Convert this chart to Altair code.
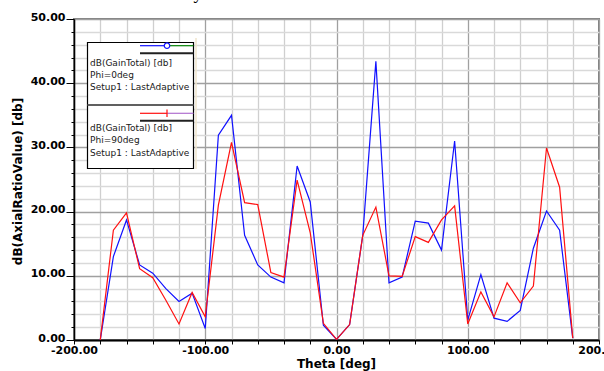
import altair as alt
import pandas as pd

# ---------------- data ----------------
theta = [-180, -170, -160, -150, -140, -130, -120, -110, -100, -90,
         -80, -70, -60, -50, -40, -30, -20, -10, 0, 10,
         20, 30, 40, 50, 60, 70, 80, 90, 100, 110,
         120, 130, 140, 150, 160, 170, 180]
phi0 = [0.0, 13.0, 18.7, 11.7, 10.4, 8.0, 6.0, 7.3, 1.8, 31.9,
        35.0, 16.3, 11.7, 9.8, 8.9, 27.1, 21.5, 2.3, 0.1, 2.4,
        16.3, 43.4, 8.9, 9.8, 18.5, 18.2, 14.0, 31.0, 3.1, 10.2,
        3.4, 2.9, 4.6, 14.3, 20.1, 17.1, 0.3]
phi90 = [0.0, 17.1, 19.8, 11.1, 9.7, 6.2, 2.5, 7.4, 3.6, 21.0,
         30.8, 21.4, 21.1, 10.5, 9.8, 24.9, 16.7, 2.6, 0.1, 2.4,
         16.3, 20.7, 10.0, 9.9, 16.1, 15.2, 18.7, 20.9, 2.5, 7.5,
         3.6, 8.9, 5.8, 8.4, 29.9, 23.8, 0.3]
series_names = ["Phi=0deg", "Phi=90deg"]
series_colors = ["#1010ff", "#ff1010"]
x_ticks = list(range(-200, 201, 20))
y_ticks = list(range(0, 51, 2))
legend_block1 = ["dB(GainTotal) [db]", "Phi=0deg", "Setup1 : LastAdaptive"]
legend_block2 = ["dB(GainTotal) [db]", "Phi=90deg", "Setup1 : LastAdaptive"]
title_text = "Axial ray out of the structure"

df = pd.DataFrame({
    "theta": theta + theta,
    "value": phi0 + phi90,
    "series": [series_names[0]] * len(theta) + [series_names[1]] * len(theta),
})

FONT = "DejaVu Sans"
W, H = 525, 321

x_axis = alt.Axis(
    values=x_ticks,
    title="Theta [deg]",
    labelExpr="datum.value % 100 === 0 ? replace(format(datum.value, '.2f'), '\u2212', '-') : ''",
    labelFont=FONT, labelFontSize=11, labelFontWeight="bold", labelColor="black",
    labelOverlap=False, labelFlush=False, labelBound=False, labelPadding=0,
    tickSize=4, tickColor="black", tickWidth=1,
    domainColor="black", domainWidth=2,
    grid=True,
    gridColor={"condition": {"test": "datum.value % 100 === 0", "value": "#a0a0a0"}, "value": "#cfcfcf"},
    gridWidth=1.3,
    titleFont=FONT, titleFontSize=12, titleFontWeight="bold", titleColor="black",
    titleX=262, titleY=23, titleBaseline="middle", titleAlign="center",
)
y_axis = alt.Axis(
    values=y_ticks,
    title="dB(AxialRatioValue) [db]",
    labelExpr="datum.value % 10 === 0 ? format(datum.value, '.2f') : ''",
    labelFont=FONT, labelFontSize=11, labelFontWeight="bold", labelColor="black",
    labelOverlap=False, labelFlush=False, labelBound=False, labelPadding=1,
    labelBaseline="alphabetic", labelOffset=1,
    tickSize={"condition": {"test": "datum.value % 10 === 0", "value": 8}, "value": 3},
    tickColor="black", tickWidth=1,
    domainColor="black", domainWidth=1.5,
    grid=True,
    gridColor={"condition": {"test": "datum.value % 10 === 0", "value": "#a0a0a0"}, "value": "#d9d9d9"},
    gridWidth=1.5,
    titleFont=FONT, titleFontSize=12, titleFontWeight="bold", titleColor="black",
    titleAngle=270, titleX=-57, titleY=162, titleBaseline="middle", titleAlign="center",
)

lines = alt.Chart(df).mark_line(strokeWidth=1.2, clip=True).encode(
    x=alt.X("theta:Q", scale=alt.Scale(domain=[-200, 200], nice=False, zero=False), axis=x_axis),
    y=alt.Y("value:Q", scale=alt.Scale(domain=[0, 50], nice=False, zero=False), axis=y_axis),
    color=alt.Color("series:N", scale=alt.Scale(domain=series_names, range=series_colors), legend=None),
    detail="series:N",
)

one = pd.DataFrame({"k": [0]})
base = alt.Chart(one)


def rule(x1, x2, y1, y2, color, width):
    return base.mark_rule(color=color, strokeWidth=width).encode(
        x=alt.value(x1), x2=alt.value(x2), y=alt.value(y1), y2=alt.value(y2))


def text(x, y, s, size=9, font=FONT, color="#202020", weight="normal"):
    return base.mark_text(align="left", baseline="alphabetic", font=font, fontSize=size,
                          color=color, fontWeight=weight).encode(
        x=alt.value(x), y=alt.value(y), text=alt.value(s))


layers = [lines]
# legend box
layers.append(rule(122, 122, 19, 150, "#efe4cc", 1.5))
layers.append(base.mark_rect(fill="white", stroke="black", strokeWidth=1.2).encode(
    x=alt.value(13.5), x2=alt.value(119.5), y=alt.value(23.5), y2=alt.value(149.5)))
layers.append(rule(13.5, 119.5, 86, 86, "#606060", 2))
# entry 1
layers.append(rule(66, 93, 26.7, 26.7, series_colors[0], 1.2))
layers.append(rule(93, 119.5, 26.7, 26.7, "#008000", 1.2))
layers.append(base.mark_point(shape="circle", size=30, filled=False, color=series_colors[0],
                              strokeWidth=1.2, fill="white", fillOpacity=1).encode(
    x=alt.value(93), y=alt.value(26.7)))
layers.append(rule(66, 119.5, 34.3, 34.3, "#202020", 2))
for t, yy in zip(legend_block1, [46.5, 58.5, 71]):
    layers.append(text(16, yy, t))
# entry 2
layers.append(rule(66, 93, 94.3, 94.3, series_colors[1], 1.2))
layers.append(rule(93, 119.5, 94.3, 94.3, "#b070d0", 1.2))
layers.append(rule(93, 93, 90.5, 98, series_colors[1], 1.2))
layers.append(rule(66, 119.5, 101.7, 101.7, "#202020", 2))
for t, yy in zip(legend_block2, [112.3, 124, 137.3]):
    layers.append(text(16, yy, t))
# title (mostly cut off at the top of the image)
layers.append(text(61, -20, title_text, size=18, font="Liberation Serif", color="black"))

chart = alt.layer(*layers).properties(
    width=W, height=H,
    autosize=alt.AutoSizeParams(type="none"),
    padding={"left": 74, "top": 19, "right": 5, "bottom": 31},
    background="white",
).configure_view(stroke="#808080", strokeWidth=2)

chart.save("out.html", embed_options={"renderer": "svg", "actions": False})
